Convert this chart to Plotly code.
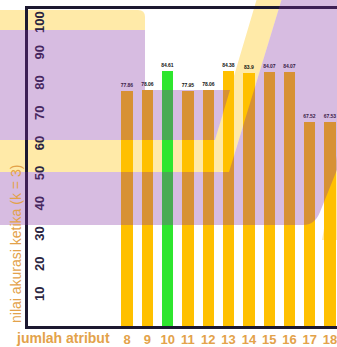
import plotly.graph_objects as go

# ---- data ----
atribut = [8, 9, 10, 11, 12, 13, 14, 15, 16, 17, 18]
akurasi = [77.86, 78.06, 84.61, 77.95, 78.06, 84.38, 83.9, 84.07, 84.07, 67.52, 67.53]
best_attr = 10
y_ticks = [10, 20, 30, 40, 50, 60, 70, 80, 90, 100]
x_title = "jumlah atribut"
y_title = "nilai akurasi ketika (k = 3)"

# ---- layout geometry (pixels) ----
W, H = 337, 347
L, T, R, B = 28, 9, 0, 21
PW, PH = W - L - R, H - T - B

def px(x, y):
    return ((x - L) / PW, (H - B - y) / PH)

def path(points, close=True):
    parts = []
    for i, p in enumerate(points):
        if p[0] == "Q":
            c = px(*p[1]); e = px(*p[2])
            parts.append(f"Q{c[0]:.4f},{c[1]:.4f} {e[0]:.4f},{e[1]:.4f}")
        else:
            q = px(*p)
            parts.append(("M" if i == 0 else "L") + f"{q[0]:.4f},{q[1]:.4f}")
    return " ".join(parts) + (" Z" if close else "")

YEL = "rgb(255,234,168)"
PUR = "rgba(130,46,161,0.32)"
NARROW = "Liberation Sans Narrow, Arial Narrow, sans-serif"

shapes = [
    # yellow decorations (below)
    dict(type="path", xref="paper", yref="paper", layer="below", line_width=0, fillcolor=YEL,
         path=path([(-5, 10), (138, 10), ("Q", (145, 10), (145, 17)), (145, 30), (-5, 30)])),
    dict(type="path", xref="paper", yref="paper", layer="below", line_width=0, fillcolor=YEL,
         path=path([(-5, 140), (215, 140), (258, -5), (283, -5), (232, 162),
                    ("Q", (229, 172), (219, 172)), (-5, 172)])),
    dict(type="path", xref="paper", yref="paper", layer="below", line_width=0, fillcolor=YEL,
         path=path([(338, 150), (352, 150), (338, 240), (322, 240)])),
    # purple decorations (above, tinting bars)
    dict(type="path", xref="paper", yref="paper", layer="above", line_width=0, fillcolor=PUR,
         path=path([(-5, 30), (145, 30), (145, 90), (230, 90), (215, 140), (-5, 140)])),
    dict(type="path", xref="paper", yref="paper", layer="above", line_width=0, fillcolor=PUR,
         path=path([(-5, 172), (229, 172), (283, -5), (345, -5), (345, 150),
                    (320, 212), ("Q", (315, 225), (303, 225)), (-5, 225)])),
]

colors = ["#2EE62E" if a == best_attr else "#FFC000" for a in atribut]
labels = [f"<b>{v}</b>" for v in akurasi]

fig = go.Figure(go.Bar(
    x=atribut, y=akurasi, width=0.56,
    marker=dict(color=colors, line_width=0),
    text=labels, textposition="outside", constraintext="none",
    textfont=dict(size=5, color="#111111", family=NARROW),
    cliponaxis=False,
))

orange = "#E3A24A"
fig.update_layout(
    width=W, height=H,
    margin=dict(l=L, r=R, t=T, b=B),
    paper_bgcolor="white", plot_bgcolor="rgba(0,0,0,0)",
    showlegend=False,
    shapes=shapes,
    bargap=0,
    xaxis=dict(range=[3.12, 18.34], tickvals=atribut, ticktext=[f"<b>{a}</b>" for a in atribut],
               ticklabeloverflow="allow",
               showline=True, linecolor="#1c1830", linewidth=2.5, mirror=True,
               showgrid=False, zeroline=False, ticks="",
               tickfont=dict(size=13, color=orange, family=NARROW)),
    yaxis=dict(range=[0, 105], tickvals=y_ticks, ticktext=[f"<b>{v}</b>" for v in y_ticks],
               tickangle=-90, ticklabelposition="inside",
               showline=True, linecolor="#1c1830", linewidth=2.5,
               showgrid=False, zeroline=False, ticks="",
               tickfont=dict(size=13, color="#2a2440", family=NARROW)),
    annotations=[
        dict(text=y_title, xref="paper", yref="paper", x=px(16, 0)[0], y=px(0, 244)[1],
             textangle=-90, showarrow=False, xanchor="center", yanchor="middle",
             font=dict(size=14, color=orange, family=NARROW)),
        dict(text=f"<b>{x_title}</b>", xref="paper", yref="paper", x=px(63, 0)[0], y=px(0, 338)[1],
             showarrow=False, xanchor="center", yanchor="middle",
             font=dict(size=14, color=orange, family=NARROW)),
    ],
)

fig.write_html("out.html")
